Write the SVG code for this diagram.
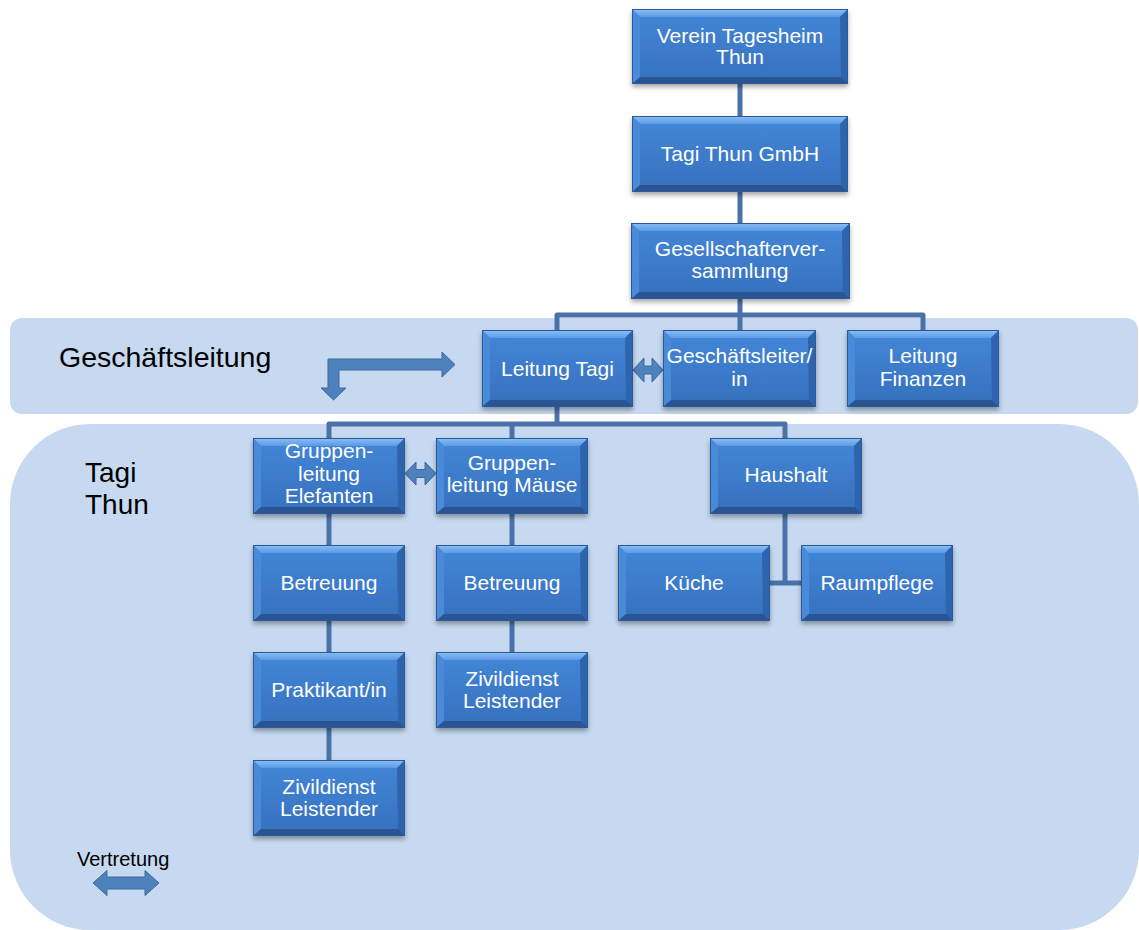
<svg xmlns="http://www.w3.org/2000/svg" xmlns:xlink="http://www.w3.org/1999/xlink" width="1139" height="930" viewBox="0 0 1139 930">
<style>
.bg{fill:#c6d9f0}
.conn{fill:none;stroke:#4a72a8;stroke-width:5;stroke-linejoin:round}
.arr{fill:#4f81bd;stroke:#3d6a9f;stroke-width:1}
.nt{font-family:"Liberation Sans",Arial,sans-serif;font-size:21px;fill:#ffffff;text-anchor:middle}
.lbl{font-family:"Liberation Sans",Arial,sans-serif;fill:#000000}
.box{filter:url(#sh)}
</style>
<defs>
<linearGradient id="face" x1="0" y1="0" x2="0" y2="1">
<stop offset="0" stop-color="#4387d8"/>
<stop offset="1" stop-color="#3670bd"/>
</linearGradient>
<linearGradient id="topb" x1="0" y1="0" x2="0" y2="1">
<stop offset="0" stop-color="#8cc0f5"/>
<stop offset="1" stop-color="#5b9ae6"/>
</linearGradient>
<filter id="sh" x="-10%" y="-10%" width="120%" height="130%">
<feDropShadow dx="0" dy="3" stdDeviation="2.5" flood-color="#000" flood-opacity="0.35"/>
</filter>
<symbol id="bs" viewBox="0 0 152 76" preserveAspectRatio="none">
<rect x="0" y="0" width="152" height="76" fill="url(#face)"/>
<polygon points="0,0 152,0 144,8 8,8" fill="url(#topb)"/>
<polygon points="0,0 8,8 8,69 0,76" fill="#4a8bd9"/>
<polygon points="152,0 152,76 145,69 144,8" fill="#2f64ad"/>
<polygon points="0,76 8,69 145,69 152,76" fill="#295592"/>
<rect x="0.5" y="0.5" width="151" height="75" fill="none" stroke="#2a5a99" stroke-width="1"/>
</symbol>
<symbol id="bl" viewBox="0 0 216 76" preserveAspectRatio="none">
<rect x="0" y="0" width="216" height="76" fill="url(#face)"/>
<polygon points="0,0 216,0 208,8 8,8" fill="url(#topb)"/>
<polygon points="0,0 8,8 8,69 0,76" fill="#4a8bd9"/>
<polygon points="216,0 216,76 209,69 208,8" fill="#2f64ad"/>
<polygon points="0,76 8,69 209,69 216,76" fill="#295592"/>
<rect x="0.5" y="0.5" width="215" height="75" fill="none" stroke="#2a5a99" stroke-width="1"/>
</symbol>
</defs>
<rect width="1139" height="930" fill="#ffffff"/>
<g id="panels">
<rect class="bg" x="10" y="318" width="1128" height="96" rx="12" ry="12"/>
<rect class="bg" x="10" y="424" width="1129" height="506" rx="80" ry="80"/>
<text class="lbl" x="59" y="367" font-size="28.5">Geschäftsleitung</text>
<text class="lbl" x="85" y="482" font-size="28">Tagi</text>
<text class="lbl" x="85" y="514" font-size="28">Thun</text>
<text class="lbl" x="77" y="866" font-size="20">Vertretung</text>
</g>
<g id="connectors">
<path class="conn" d="M740,84 V116 M740,192 V223 M740,299 V330"/>
<path class="conn" d="M557,330 V315 H923 V330"/>
<path class="conn" d="M557,407 V424"/>
<path class="conn" d="M329,438 V424 H785 V438 M512,424 V438"/>
<path class="conn" d="M329,514 V545 M329,621 V652 M329,728 V760"/>
<path class="conn" d="M512,514 V545 M512,621 V652"/>
<path class="conn" d="M785,514 V583 M770,583 H801"/>
<polygon class="arr" points="328,359 442,359 442,352 455,364.5 442,377 442,370 339,370 339,388 346,388 333.5,400 321,388 328,388"/>
<polygon class="arr" points="633,370 644,358 644,366 652,366 652,358 663,370 652,382 652,374 644,374 644,382"/>
<polygon class="arr" points="405,473.5 416,462 416,469.5 425,469.5 425,462 436,473.5 425,485 425,477.5 416,477.5 416,485"/>
<polygon class="arr" points="93,883 107,870.5 107,877 145,877 145,870.5 159,883 145,895.5 145,889 107,889 107,895.5"/>
</g>
<g id="verein"><use class="box" xlink:href="#bl" x="632" y="9" width="216" height="75"/><text class="nt" x="740" y="43">Verein Tagesheim</text><text class="nt" x="740" y="64">Thun</text></g>
<g id="gmbh"><use class="box" xlink:href="#bl" x="632" y="116" width="216" height="76"/><text class="nt" x="740" y="161">Tagi Thun GmbH</text></g>
<g id="gesell"><use class="box" xlink:href="#bl" x="631" y="223" width="219" height="76"/><text class="nt" x="740" y="256">Gesellschafterver-</text><text class="nt" x="740" y="278">sammlung</text></g>
<g id="leitungTagi"><use class="box" xlink:href="#bs" x="482" y="330" width="151" height="77"/><text class="nt" x="557.5" y="376">Leitung Tagi</text></g>
<g id="gfl"><use class="box" xlink:href="#bs" x="663" y="330" width="153" height="77"/><text class="nt" x="739.5" y="363">Geschäftsleiter/</text><text class="nt" x="739.5" y="386">in</text></g>
<g id="finanzen"><use class="box" xlink:href="#bs" x="847" y="330" width="152" height="77"/><text class="nt" x="923" y="363">Leitung</text><text class="nt" x="923" y="386">Finanzen</text></g>
<g id="grpE"><use class="box" xlink:href="#bs" x="253" y="438" width="152" height="76"/><text class="nt" x="329" y="458">Gruppen-</text><text class="nt" x="329" y="481">leitung</text><text class="nt" x="329" y="503">Elefanten</text></g>
<g id="grpM"><use class="box" xlink:href="#bs" x="436" y="438" width="152" height="76"/><text class="nt" x="512" y="470">Gruppen-</text><text class="nt" x="512" y="492">leitung Mäuse</text></g>
<g id="haushalt"><use class="box" xlink:href="#bs" x="710" y="438" width="152" height="76"/><text class="nt" x="786" y="482">Haushalt</text></g>
<g id="kueche"><use class="box" xlink:href="#bs" x="618" y="545" width="152" height="76"/><text class="nt" x="694" y="590">Küche</text></g>
<g id="raumpflege"><use class="box" xlink:href="#bs" x="801" y="545" width="152" height="76"/><text class="nt" x="877" y="590">Raumpflege</text></g>
<g id="betrE"><use class="box" xlink:href="#bs" x="253" y="545" width="152" height="76"/><text class="nt" x="329" y="590">Betreuung</text></g>
<g id="betrM"><use class="box" xlink:href="#bs" x="436" y="545" width="152" height="76"/><text class="nt" x="512" y="590">Betreuung</text></g>
<g id="prakt"><use class="box" xlink:href="#bs" x="253" y="652" width="152" height="76"/><text class="nt" x="329" y="697">Praktikant/in</text></g>
<g id="zivM"><use class="box" xlink:href="#bs" x="436" y="652" width="152" height="76"/><text class="nt" x="512" y="686">Zivildienst</text><text class="nt" x="512" y="708">Leistender</text></g>
<g id="zivE"><use class="box" xlink:href="#bs" x="253" y="760" width="152" height="76"/><text class="nt" x="329" y="794">Zivildienst</text><text class="nt" x="329" y="816">Leistender</text></g>
</svg>
